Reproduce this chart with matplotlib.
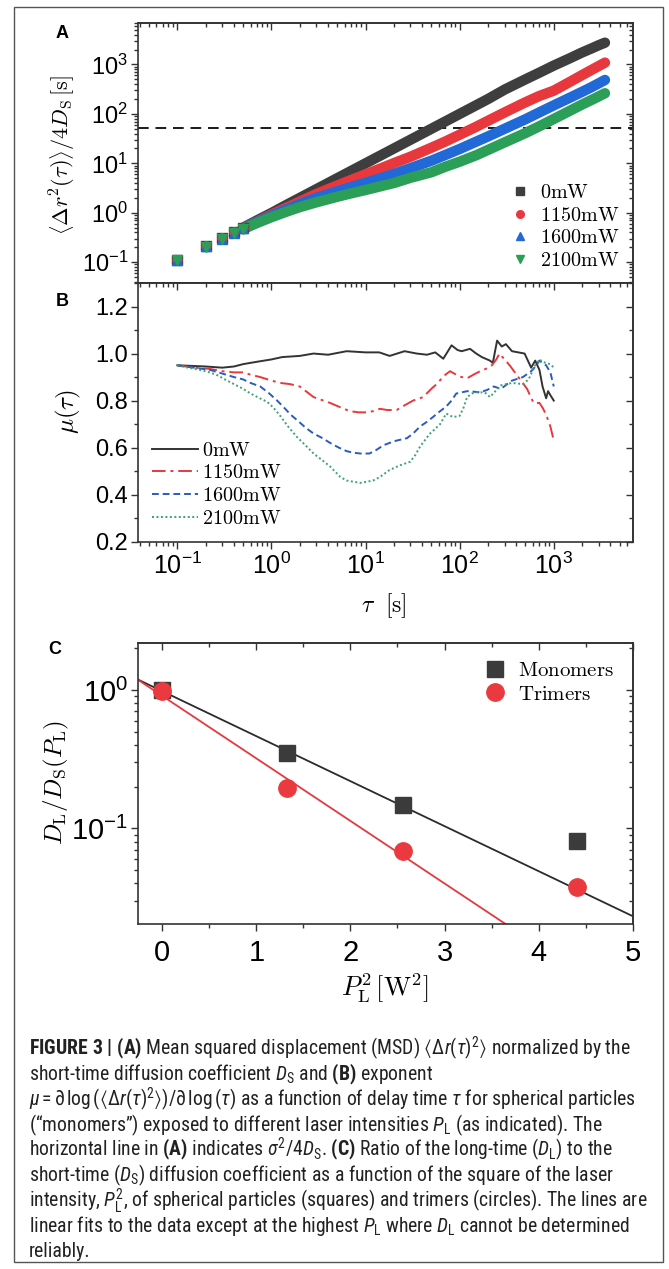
import numpy as np
import matplotlib
matplotlib.use("Agg")
import matplotlib.pyplot as plt
from matplotlib import font_manager
from matplotlib.ticker import MultipleLocator, NullFormatter, FixedLocator
from matplotlib.patches import Rectangle

# ---------------- data ----------------
# panel A: <dr^2(tau)>/4Ds  [s]
tau_a = [0.1, 0.2, 0.3, 0.4, 0.5, 0.7, 1, 1.5, 2, 3, 5, 7, 10, 15, 20, 30, 50, 70,
         100, 150, 200, 300, 500, 700, 1000, 1500, 2000, 2500, 3000, 3500]
msd_0 = [0.11, 0.21, 0.31, 0.405, 0.50, 0.70, 0.99, 1.5, 2.0, 3.0, 5.0, 7.0, 10, 15, 20, 30,
         50, 70, 100, 150, 200, 310, 500, 680, 950, 1350, 1750, 2100, 2450, 2760]
msd_1150 = [0.11, 0.21, 0.31, 0.40, 0.49, 0.66, 0.92, 1.31, 1.68, 2.4, 3.56, 4.6, 6.0, 8.1,
            10.1, 13.6, 20.7, 27.5, 38, 55, 72.6, 107, 172, 230, 295, 450, 610, 770, 930, 1090]
msd_1600 = [0.11, 0.21, 0.30, 0.395, 0.483, 0.65, 0.877, 1.2, 1.5, 2.0, 2.72, 3.3, 4.05, 5.1,
            6.1, 8.0, 11.3, 14.7, 19.5, 27.5, 35, 50, 78, 107, 149, 215, 280, 345, 415, 486]
msd_2100 = [0.11, 0.205, 0.295, 0.385, 0.468, 0.62, 0.815, 1.08, 1.30, 1.63, 2.11, 2.47, 2.89,
            3.5, 4.0, 5.1, 6.6, 8.5, 10.8, 14.6, 18.7, 26.5, 41, 56, 79, 117, 155, 190, 226, 262]
sigma_line = 51

# panel B: exponent mu(tau)
tau_b0 = [0.1, 0.2, 0.3, 0.4, 0.5, 0.7, 1.0, 1.3, 2.0, 2.8, 4, 6.3, 10, 14, 18, 26, 35, 45, 55,
          67, 82, 95, 105, 129, 150, 172, 210, 225, 250, 280, 310, 360, 420, 490, 575, 635,
          705, 760, 830, 870, 930, 1000]
mu_0 = [0.95, 0.945, 0.94, 0.945, 0.955, 0.965, 0.975, 0.985, 0.99, 1.0, 0.995, 1.01, 1.005,
        1.005, 0.99, 1.01, 1.0, 0.995, 1.005, 0.978, 1.035, 1.015, 1.01, 1.02, 1.0, 0.985,
        0.97, 0.96, 1.055, 1.03, 1.04, 1.01, 1.005, 1.0, 0.94, 0.97, 0.93, 0.86, 0.81, 0.84,
        0.82, 0.80]
tau_b1 = [0.1, 0.15, 0.22, 0.3, 0.4, 0.5, 0.6, 0.76, 1.0, 1.24, 1.58, 2.0, 2.8, 4.2, 5.5, 6.8,
          8.5, 10.3, 12, 14.2, 17, 21.4, 26, 32, 41, 50, 57, 68, 79, 92, 105, 120, 140, 165,
          190, 220, 245, 265, 300, 340, 420, 520, 610, 705, 760, 830, 920, 1000]
mu_1150 = [0.95, 0.94, 0.935, 0.925, 0.92, 0.92, 0.91, 0.90, 0.885, 0.875, 0.87, 0.86, 0.815,
           0.79, 0.77, 0.755, 0.75, 0.75, 0.755, 0.765, 0.76, 0.76, 0.78, 0.80, 0.815, 0.85,
           0.87, 0.905, 0.925, 0.91, 0.90, 0.895, 0.91, 0.925, 0.935, 0.95, 0.975, 1.0, 0.975,
           0.95, 0.90, 0.85, 0.79, 0.79, 0.77, 0.74, 0.69, 0.63]
tau_b2 = [0.1, 0.15, 0.225, 0.3, 0.4, 0.5, 0.6, 0.76, 0.95, 1.15, 1.4, 1.6, 1.9, 2.3, 2.8, 3.5,
          4.2, 5.2, 6.3, 7.5, 8.8, 11, 13, 15.5, 18, 21.4, 27.5, 32, 38, 45, 52, 62, 72, 82,
          92, 105, 120, 140, 165, 195, 230, 275, 320, 360, 470, 575, 640, 705, 760, 830, 920,
          1000]
mu_1600 = [0.95, 0.94, 0.93, 0.915, 0.90, 0.89, 0.875, 0.86, 0.83, 0.80, 0.765, 0.74, 0.715,
           0.685, 0.66, 0.64, 0.62, 0.60, 0.585, 0.578, 0.575, 0.575, 0.59, 0.61, 0.62, 0.63,
           0.64, 0.66, 0.69, 0.71, 0.73, 0.755, 0.775, 0.80, 0.83, 0.835, 0.84, 0.838, 0.835,
           0.845, 0.86, 0.85, 0.87, 0.885, 0.90, 0.925, 0.945, 0.97, 0.96, 0.95, 0.92, 0.86]
tau_b3 = [0.1, 0.13, 0.175, 0.22, 0.26, 0.32, 0.4, 0.5, 0.6, 0.75, 0.9, 1.05, 1.24, 1.5, 1.87,
          2.3, 2.8, 3.5, 4.2, 5.4, 6.3, 7.4, 8.8, 10.3, 12, 14.2, 16, 18, 23.3, 29.8, 34, 38,
          48.5, 55, 62, 72, 85, 100, 110, 120, 135, 150, 185, 210, 246, 275, 360, 470, 540,
          635, 705, 760, 830, 920, 1000]
mu_2100 = [0.95, 0.94, 0.93, 0.92, 0.91, 0.89, 0.87, 0.85, 0.83, 0.81, 0.795, 0.77, 0.735,
           0.69, 0.645, 0.61, 0.575, 0.545, 0.52, 0.475, 0.46, 0.455, 0.45, 0.455, 0.46, 0.475,
           0.49, 0.505, 0.525, 0.54, 0.57, 0.605, 0.66, 0.68, 0.70, 0.745, 0.73, 0.735, 0.77,
           0.815, 0.83, 0.835, 0.835, 0.815, 0.845, 0.865, 0.875, 0.87, 0.89, 0.95, 0.975,
           0.965, 0.96, 0.955, 0.94]

# panel C: D_L / D_S vs P_L^2
p2 = [0.0, 1.3225, 2.56, 4.41]
ratio_mono = [1.0, 0.35, 0.147, 0.081]
ratio_tri = [0.98, 0.195, 0.0685, 0.0378]

labels = ["0mW", "1150mW", "1600mW", "2100mW"]

# ---------------- fonts ----------------
have = {f.name for f in font_manager.fontManager.ttflist}
cap_font = next((n for n in ["Liberation Sans Narrow", "Roboto Condensed", "Liberation Sans"]
                 if n in have), "DejaVu Sans")
tick_font = "Liberation Sans" if "Liberation Sans" in have else "DejaVu Sans"

plt.rcParams["font.family"] = [tick_font, "DejaVu Sans"]
plt.rcParams["mathtext.fontset"] = "cm"
plt.rcParams["mathtext.rm"] = cap_font
plt.rcParams["mathtext.it"] = cap_font + ":italic"
plt.rcParams["mathtext.bf"] = cap_font + ":bold"
plt.rcParams["mathtext.fallback"] = "stixsans"
plt.rcParams["axes.unicode_minus"] = False
plt.rcParams["axes.linewidth"] = 1.2
plt.rcParams["axes.edgecolor"] = "#333333"

W, H = 669, 1269
fig = plt.figure(figsize=(W / 100, H / 100), dpi=100)


def px(x, y):
    return x / W, 1 - y / H


def box(x0, y0, x1, y1):
    return [x0 / W, 1 - y1 / H, (x1 - x0) / W, (y1 - y0) / H]


tick_kw = dict(color="#333333", width=1.0)


def style_axes(ax, xsize, ysize, xminor=None, yminor=None, xmajor=None, xpad=3):
    ax.tick_params(which="both", direction="out", top=False, right=False, **tick_kw)
    ax.tick_params(which="major", length=5)
    ax.tick_params(which="minor", length=3)
    ax.tick_params(axis="x", labelsize=xsize, pad=xpad)
    ax.tick_params(axis="y", labelsize=ysize, pad=2)
    top = ax.secondary_xaxis("top")
    right = ax.secondary_yaxis("right")
    for s in (top, right):
        s.tick_params(which="both", direction="in", **tick_kw)
        s.tick_params(which="major", length=5)
        s.tick_params(which="minor", length=3)
    top.xaxis.set_major_formatter(NullFormatter())
    top.xaxis.set_minor_formatter(NullFormatter())
    right.yaxis.set_major_formatter(NullFormatter())
    right.yaxis.set_minor_formatter(NullFormatter())
    if xmajor is not None:
        top.xaxis.set_major_locator(FixedLocator(xmajor))
    if xminor is not None:
        ax.xaxis.set_minor_locator(MultipleLocator(xminor))
        top.xaxis.set_minor_locator(MultipleLocator(xminor))
    if yminor is not None:
        ax.yaxis.set_minor_locator(MultipleLocator(yminor))
        right.yaxis.set_minor_locator(MultipleLocator(yminor))
    return top, right


# ---------------- panel A ----------------
axA = fig.add_axes(box(137.8, 22.7, 632.7, 283))
axB = fig.add_axes(box(137.8, 283, 632.7, 541.7), sharex=axA)
axC = fig.add_axes(box(137.8, 642.7, 632.7, 924))

axA.set_xscale("log")
axA.set_yscale("log")
axA.set_xlim(0.038, 6900)
axA.set_ylim(0.038, 7000)

colA = ["#3e3e3e", "#e8383d", "#2069d6", "#2b9f58"]
mrk = ["s", "o", "^", "v"]
msds = [msd_0, msd_1150, msd_1600, msd_2100]
t = np.array(tau_a)
handles = []
for y, c, m, lab in zip(msds, colA, mrk, labels):
    y = np.array(y)
    band = t >= 0.5
    early = t <= 0.5
    axA.plot(t[band], y[band], "-", color=c, lw=7.5, solid_capstyle="round", zorder=2)
    axA.plot(t[early], y[early], ls="none", marker=m, ms=6.5, color=c, mec=c, zorder=3)
    h, = axA.plot([], [], ls="none", marker=m, ms=5.5, color=c, mec=c, label=lab)
    handles.append(h)
axA.axhline(sigma_line, color="#1a1a1a", ls=(0, (5.5, 3.5)), lw=1.4, zorder=1)
axA.tick_params(labelbottom=False)
style_axes(axA, 18, 17)
legA = axA.legend(handles=handles, labels=[r"$\mathrm{%s}$" % l for l in labels],
                  loc="lower right", frameon=False, fontsize=14.5,
                  handletextpad=0.5, labelspacing=0.18, borderaxespad=0.25,
                  handlelength=1.0)

# ---------------- panel B ----------------
axB.set_ylim(0.2, 1.3)
axB.set_yticks([0.2, 0.4, 0.6, 0.8, 1.0, 1.2])
axB.set_yticklabels(["0.2", "0.4", "0.6", "0.8", "1.0", "1.2"])
lsB = ["-", (0, (7, 2.5, 1.5, 2.5)), (0, (3.5, 2)), (0, (1, 1.3))]
colB = ["#333333", "#e8383d", "#2a5cc0", "#3aa374"]
taus_b = [tau_b0, tau_b1, tau_b2, tau_b3]
mus = [mu_0, mu_1150, mu_1600, mu_2100]
for tb, mu, c, ls, lab in zip(taus_b, mus, colB, lsB, labels):
    axB.plot(tb, mu, color=c, ls=ls, lw=1.4, label=r"$\mathrm{%s}$" % lab)
style_axes(axB, 18, 17, yminor=0.1)
axB.legend(loc="lower left", frameon=False, fontsize=14.5, handlelength=2.3,
           handletextpad=0.2, labelspacing=0.18, borderaxespad=0.3)

# ---------------- panel C ----------------
axC.set_yscale("log")
axC.set_xlim(-0.26, 5)
axC.set_ylim(0.0203, 2.2)
axC.set_xticks([0, 1, 2, 3, 4, 5])
xs = np.array(p2)
xfit = np.array([-0.26, 5.0])
for yv, c in ((ratio_mono, "#2b2b2b"), (ratio_tri, "#e8383d")):
    k, b = np.polyfit(xs[:3], np.log10(yv[:3]), 1)
    axC.plot(xfit, 10 ** (k * xfit + b), color=c, lw=1.3, zorder=2)
axC.plot(p2, ratio_mono, "s", color="#3b3b3b", ms=11.5, zorder=3,
         label=r"$\mathrm{Monomers}$")
axC.plot(p2, ratio_tri, "o", color="#ea3a3f", ms=12.5, zorder=4,
         label=r"$\mathrm{Trimers}$")
style_axes(axC, 21, 21, xminor=0.5, xmajor=[0, 1, 2, 3, 4, 5], xpad=6)
axC.legend(loc="upper right", frameon=False, fontsize=15, handletextpad=0.5,
           labelspacing=0.2, borderaxespad=0.5, handlelength=1.2)

# ---------------- labels ----------------
fig.text(*px(63, 155), r"$\left\langle\Delta r^2(\tau)\right\rangle/4D_\mathrm{S}\,[\mathrm{s}]$",
         rotation=90, ha="center", va="center", fontsize=16)
fig.text(*px(68, 412), r"$\mu(\tau)$", rotation=90, ha="center", va="center", fontsize=18)
fig.text(*px(384, 606), r"$\tau\ \ [\mathrm{s}]$", ha="center", va="center", fontsize=17)
fig.text(*px(56, 782), r"$D_\mathrm{L}/D_\mathrm{S}(P_\mathrm{L})$", rotation=90,
         ha="center", va="center", fontsize=18)
fig.text(*px(385, 988), r"$P_\mathrm{L}^2\,[\mathrm{W}^2]$", ha="center", va="center",
         fontsize=19)

for lt, (x, y) in zip("ABC", [(62, 33), (62, 302), (55, 650)]):
    fig.text(*px(x, y), lt, ha="center", va="center", fontsize=13, fontweight="bold")

# ---------------- caption ----------------
caption = [
    r"$\mathbf{FIGURE\ 3\ |\ (A)}$ Mean squared displacement (MSD) $\langle\Delta r(\tau)^2\rangle$ normalized by the",
    r"short-time diffusion coefficient $D_\mathrm{S}$ and $\mathbf{(B)}$ exponent",
    r"$\mu = \partial\,\mathrm{log}\,(\langle\Delta r(\tau)^2\rangle)/\partial\,\mathrm{log}\,(\tau)$ as a function of delay time $\tau$ for spherical particles",
    "(\u201cmonomers\u201d) exposed to different laser intensities $P_\\mathrm{L}$ (as indicated). The",
    r"horizontal line in $\mathbf{(A)}$ indicates $\sigma^2/4D_\mathrm{S}$. $\mathbf{(C)}$ Ratio of the long-time ($D_\mathrm{L}$) to the",
    r"short-time ($D_\mathrm{S}$) diffusion coefficient as a function of the square of the laser",
    r"intensity, $P_\mathrm{L}^2$, of spherical particles (squares) and trimers (circles). The lines are",
    r"linear fits to the data except at the highest $P_\mathrm{L}$ where $D_\mathrm{L}$ cannot be determined",
    "reliably.",
]
for i, line in enumerate(caption):
    fig.text(*px(28.6, 1055 + 25.3 * i), line, ha="left", va="baseline", fontsize=14.2,
             family=[cap_font, "DejaVu Sans"], math_fontfamily="custom", color="#222222")

fig.patches.append(Rectangle((14 / W, 1 - 1262 / H), (663 - 14) / W, (1262 - 7) / H,
                             transform=fig.transFigure, fill=False, lw=1.0,
                             edgecolor="#555555"))

fig.savefig("out.png", dpi=100)
